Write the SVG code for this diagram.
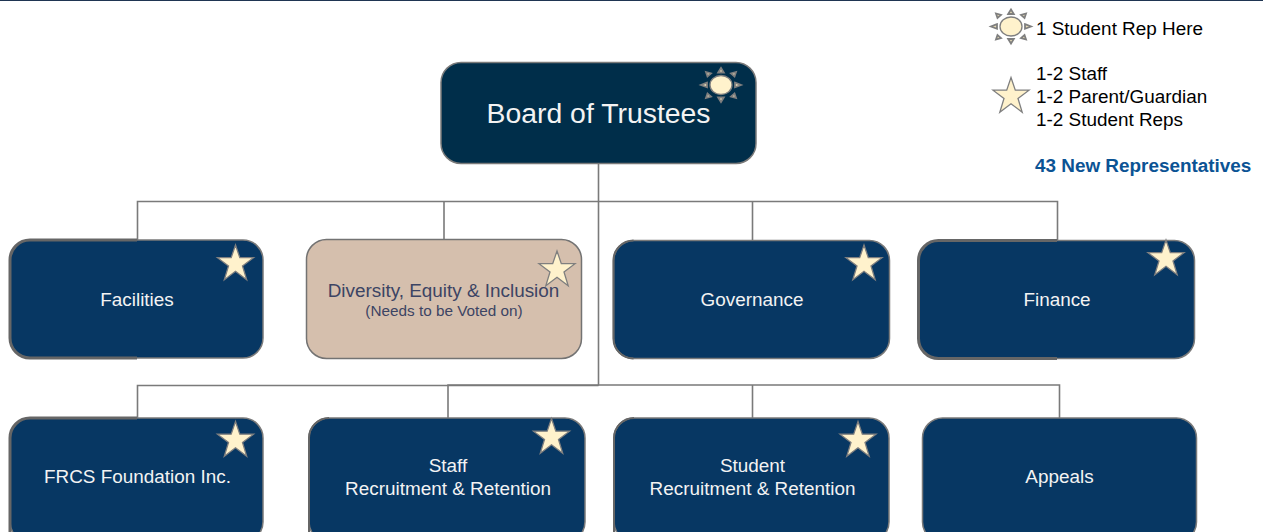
<svg xmlns="http://www.w3.org/2000/svg" width="1263" height="532" viewBox="0 0 1263 532">
<style>
text{font-family:"Liberation Sans",Arial,sans-serif;text-anchor:middle}
.box{fill:#073763;stroke:#7a7a7a;stroke-width:1.5}
.edge{fill:none;stroke:#666;stroke-width:3}
.lbl{fill:#f3f3f3;font-size:18.9px}
.leg{fill:#000;font-size:18.9px;text-anchor:start}
.con{fill:none;stroke:#7a7a7a;stroke-width:1.6}
.ic{fill:#fff2cc;stroke:#7f7f7f;stroke-width:1.3}
.ray{stroke-width:1.8;fill:#e8dcb8}
</style>
<defs>
<polygon id="star" points="0,-18.500 4.300,-5.800 18,-5.800 7,2.400 11.200,16.200 0,7.800 -11.200,16.200 -7,2.400 -18,-5.800 -4.300,-5.800"/>
<g id="sun">
<ellipse cx="0" cy="0" rx="11" ry="9.500"/>
<g class="ray">
<polygon points="-2.800,-12.500 0,-17 2.800,-12.500"/>
<polygon points="-2.800,12.500 0,17 2.800,12.500"/>
<polygon points="-14,-2.300 -20,0 -14,2.300"/>
<polygon points="14,-2.300 20,0 14,2.300"/>
<polygon points="-13.500,-8.500 -15,-13 -10,-11.500"/>
<polygon points="13.500,-8.500 15,-13 10,-11.500"/>
<polygon points="-13.500,8.500 -15,13 -10,11.500"/>
<polygon points="13.500,8.500 15,13 10,11.500"/>
</g>
</g>
</defs>
<rect width="1263" height="532" fill="#fff"/>
<rect width="1263" height="1" fill="#1f3552"/>
<g id="connectors">
<path class="con" d="M598.500 163V385.500"/>
<path class="con" d="M137.500 240V201.500H1057.500V240M444 240V201.500M752.500 240V201.500"/>
<path class="con" d="M137.500 418V385.500H598.500"/>
<path class="con" d="M448 418V385H1059.500V418M752.500 418V385"/>
</g>
<g id="board">
<rect x="441" y="62.500" width="315" height="101" rx="20" fill="#002e4a" stroke="#7a7a7a" stroke-width="1.500"/>
<text x="598.500" y="123" fill="#f3f3f3" font-size="28.400">Board of Trustees</text>
<use href="#sun" x="721" y="85" class="ic"/>
</g>
<g id="facilities">
<rect class="box" x="10" y="240" width="253" height="118" rx="20"/>
<path class="edge" d="M137 240H30A20 20 0 0 0 10 260V338A20 20 0 0 0 30 358H137"/>
<text class="lbl" x="137" y="305.500">Facilities</text>
<use href="#star" x="235.500" y="263.500" class="ic"/>
</g>
<g id="dei">
<rect x="306.500" y="239.500" width="275" height="119" rx="20" fill="#d5bfad" stroke="#737373" stroke-width="1.500"/>
<text x="443.500" y="297" fill="#3c4464" font-size="18.900">Diversity, Equity &amp; Inclusion</text>
<text x="444" y="316" fill="#3c4464" font-size="15.300">(Needs to be Voted on)</text>
<use href="#star" x="557" y="269.500" class="ic"/>
</g>
<g id="governance">
<rect class="box" x="613.500" y="240.500" width="276" height="118" rx="20"/>
<path class="edge" d="M633.500 240.500A20 20 0 0 0 613.500 260.500V338.500A20 20 0 0 0 633.500 358.500" style="stroke-width:2"/>
<text class="lbl" x="752" y="306">Governance</text>
<use href="#star" x="864" y="263.500" class="ic"/>
</g>
<g id="finance">
<rect class="box" x="918.500" y="240.500" width="276" height="118" rx="20"/>
<path class="edge" d="M1057 240.500H938.500A20 20 0 0 0 918.500 260.500V338.500A20 20 0 0 0 938.500 358.500H1057"/>
<text class="lbl" x="1057" y="306">Finance</text>
<use href="#star" x="1166" y="258.500" class="ic"/>
</g>
<g id="frcs">
<rect class="box" x="10" y="418" width="253" height="124" rx="20"/>
<path class="edge" d="M137 418H30A20 20 0 0 0 10 438V542"/>
<text class="lbl" x="137.500" y="483">FRCS Foundation Inc.</text>
<use href="#star" x="235.500" y="440" class="ic"/>
</g>
<g id="staff">
<rect class="box" x="309" y="418" width="276" height="124" rx="20"/>
<path class="edge" d="M329 418A20 20 0 0 0 309 438V542" style="stroke-width:2"/>
<text class="lbl" x="448" y="472">Staff</text>
<text class="lbl" x="448" y="495">Recruitment &amp; Retention</text>
<use href="#star" x="551.500" y="437" class="ic"/>
</g>
<g id="student">
<rect class="box" x="614" y="418" width="275" height="124" rx="20"/>
<path class="edge" d="M634 418A20 20 0 0 0 614 438V542" style="stroke-width:2"/>
<text class="lbl" x="752.500" y="472">Student</text>
<text class="lbl" x="752.500" y="495">Recruitment &amp; Retention</text>
<use href="#star" x="858" y="440" class="ic"/>
</g>
<g id="appeals">
<rect class="box" x="922.500" y="418" width="274" height="124" rx="20"/>
<text class="lbl" x="1059.500" y="483">Appeals</text>
</g>
<g id="legend">
<use href="#sun" x="1011" y="26.500" class="ic"/>
<text class="leg" x="1036" y="35">1 Student Rep Here</text>
<use href="#star" x="1011" y="96" class="ic"/>
<text class="leg" x="1036" y="80">1-2 Staff</text>
<text class="leg" x="1036" y="103">1-2 Parent/Guardian</text>
<text class="leg" x="1036" y="126">1-2 Student Reps</text>
<text x="1035" y="172" font-size="18.900" font-weight="bold" fill="#0b5394" style="text-anchor:start">43 New Representatives</text>
</g>
</svg>
